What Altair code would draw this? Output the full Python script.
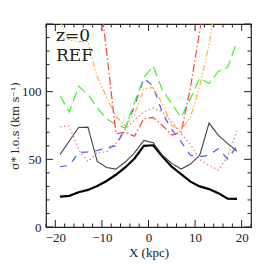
import altair as alt
import pandas as pd

X = [-19, -17, -15, -13, -11, -9, -7, -5, -3, -1, 1, 3, 5, 7, 9, 11, 13, 15, 17, 19]
black = [22.5, 23, 25.7, 27.4, 30.3, 34, 38.6, 44, 50.6, 60, 60.4, 52, 44.5, 39, 33.5, 30, 28, 25, 21, 20.8]
gray = [53.5, 63.5, 73.5, 73.8, 48.5, 44, 42.8, 48, 54.8, 64, 62.3, 53, 47, 42.8, 46.5, 53, 76.8, 67.7, 61.6, 56]
blue = [44.5, 45.5, 55, 55.5, 56.5, 58.5, 60, 73, 89, 110, 104, 84, 72, 63, 53, 52, 53, 58, 50, 60]
green = [97, 85, 104, 98, 88, 80, 76, 73, 92, 110.5, 119, 101, 91, 81, 95, 110, 106, 115, 118, 137]
red = [230, 220, 210, 205, 187, 130, 69, 70, 67, 80, 81, 75, 68, 70, 103, 145, 185, 220, 240, 260]
orange = [152, 138, 137, 137, 111, 96, 82, 75, 83, 102, 103, 91, 75, 72, 81, 104, 135, 175, 200, 220]
pink = [74, 74.5, 57, 48.5, 55, 55.5, 62, 72, 79, 85, 88, 85, 78, 69, 61, 50, 45.5, 42, 52, 71]

x_major = [-20, -10, 0, 10, 20]
x_minor = [-22, -18, -16, -14, -12, -8, -6, -4, -2, 2, 4, 6, 8, 12, 14, 16, 18, 22]
y_major = [0, 50, 100, 150]
y_minor = [10, 20, 30, 40, 60, 70, 80, 90, 110, 120, 130, 140]
labels = ["z=0", "REF"]

W, H = 205, 203
FONT = "Liberation Serif"
TFONT = "DejaVu Serif"
xs = alt.Scale(domain=[-22, 22], nice=False, zero=False)
ys = alt.Scale(domain=[0, 150], nice=False, zero=False)

series = [
    (black, "#000000", 2.2, []),
    (gray, "#444444", 1.1, []),
    (pink, "#e08888", 1.3, [1.5, 2.5]),
    (blue, "#5050ff", 1.2, [7, 7]),
    (green, "#44ee33", 1.2, [10, 5]),
    (orange, "#ffb040", 1.2, [6, 2, 1.5, 2, 1.5, 2]),
    (red, "#ff4040", 1.2, [8, 2.5, 1.5, 2.5]),
]

xaxis = alt.Axis(values=x_major, title="X (kpc)", ticks=False, domain=False, grid=False,
                 labelFont=FONT, labelFontSize=13, labelColor="#222", labelPadding=4,
                 titleFont=FONT, titleFontSize=13, titleFontWeight="normal", titleColor="#222",
                 titlePadding=2)
yaxis = alt.Axis(values=[0, 50, 100], title="σ* l.o.s (km s⁻¹)", ticks=False, domain=False, grid=False,
                 labelFont=FONT, labelFontSize=13, labelColor="#222", labelPadding=5,
                 titleFont=TFONT, titleFontSize=11, titleFontWeight="normal", titleColor="#222",
                 titlePadding=1)

layers = []
for vals, col, sw, dash in series:
    df = pd.DataFrame({"x": X, "y": vals})
    kw = dict(color=col, strokeWidth=sw, clip=True)
    if dash:
        kw["strokeDash"] = dash
    layers.append(
        alt.Chart(df).mark_line(**kw).encode(
            x=alt.X("x:Q", scale=xs, axis=xaxis),
            y=alt.Y("y:Q", scale=ys, axis=yaxis),
        )
    )

def xticks(vals, ln):
    d = pd.DataFrame({"x": vals})
    bot = alt.Chart(d).mark_rule(color="#222", strokeWidth=1).encode(
        x=alt.X("x:Q", scale=xs, axis=xaxis), y=alt.value(H), y2=alt.value(H - ln))
    top = alt.Chart(d).mark_rule(color="#222", strokeWidth=1).encode(
        x=alt.X("x:Q", scale=xs, axis=xaxis), y=alt.value(0), y2=alt.value(ln))
    return [bot, top]

def yticks(vals, ln):
    d = pd.DataFrame({"y": vals})
    lft = alt.Chart(d).mark_rule(color="#222", strokeWidth=1).encode(
        y=alt.Y("y:Q", scale=ys, axis=yaxis), x=alt.value(0), x2=alt.value(ln))
    rgt = alt.Chart(d).mark_rule(color="#222", strokeWidth=1).encode(
        y=alt.Y("y:Q", scale=ys, axis=yaxis), x=alt.value(W), x2=alt.value(W - ln))
    return [lft, rgt]

ticks = xticks(x_major, 7) + xticks(x_minor, 3.5) + yticks(y_major, 7) + yticks(y_minor, 3.5)

texts = []
for lab, ypix in zip(labels, [17, 37]):
    texts.append(
        alt.Chart(pd.DataFrame({"label": [lab]})).mark_text(
            font=TFONT, fontSize=17, color="#222", align="left", baseline="alphabetic"
        ).encode(text="label:N", x=alt.value(10), y=alt.value(ypix))
    )

chart = alt.layer(*layers, *ticks, *texts).properties(
    width=W, height=H,
    autosize=alt.AutoSizeParams(type="none"),
    padding={"left": 38, "top": 16, "right": 14, "bottom": 38},
).configure_view(stroke="#222", strokeWidth=1.2)

chart.save("out.html", embed_options={"renderer": "svg", "actions": False})
